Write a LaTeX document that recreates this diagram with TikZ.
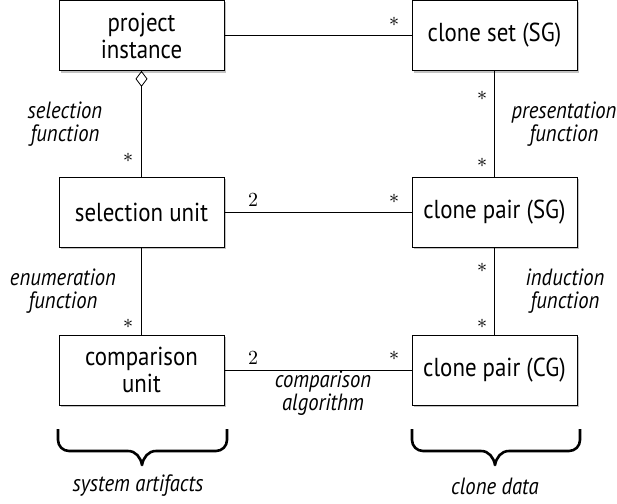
\documentclass[tikz,border=0pt]{standalone}
\usepackage{fontspec}
\setmainfont{PT Sans}[FakeStretch=0.88]
\newfontfamily\lmm{Latin Modern Math}
\usetikzlibrary{shadows,arrows.meta}
\begin{document}
\begin{tikzpicture}[x=1pt,y=-1pt,
 box/.style={draw, line width=0.8pt, fill=white, minimum width=165pt, minimum height=70pt,
   inner sep=0pt, align=center, font=\fontsize{26}{27}\selectfont,
   drop shadow={shadow xshift=2pt, shadow yshift=-2pt, fill=black!40, opacity=0.6}},
 lab/.style={font=\fontsize{23.5}{23}\selectfont\itshape, align=center, inner sep=0pt},
 mult/.style={font=\lmm\fontsize{20}{20}\selectfont, inner sep=0pt},
 conn/.style={line width=0.8pt},
 bracepath/.style={line width=2.6pt, line join=round}]
\useasboundingbox (0,0) rectangle (617,503);

% boxes
\node[box] (pi) at (141.5,35.5) {project\\instance};
\node[box] (cs) at (494.5,35.5) {clone set (SG)};
\node[box] (su) at (141.5,212) {selection unit};
\node[box] (cps) at (494.5,212) {clone pair (SG)};
\node[box] (cu) at (141.5,370) {comparison\\unit};
\node[box] (cpc) at (494.5,370) {clone pair (CG)};

% connectors
\draw[conn] (pi.east) -- (cs.west);
\draw[conn, {Diamond[open, length=16pt, width=12pt, line width=0.8pt]}-] (pi.south) -- (su.north);
\draw[conn] (cs.south) -- (cps.north);
\draw[conn] (su.east) -- (cps.west);
\draw[conn] (su.south) -- (cu.north);
\draw[conn] (cps.south) -- (cpc.north);
\draw[conn] (cu.east) -- (cpc.west);

% multiplicities
\node[mult] (m1) at (394,22) {∗};
\node[mult] (m2) at (128,158) {∗};
\node[mult] (m3) at (482,96) {∗};
\node[mult] (m4) at (482,163) {∗};
\node[mult] (m5) at (253,200) {2};
\node[mult] (m6) at (394,199) {∗};
\node[mult] (m7) at (128,324) {∗};
\node[mult] (m8) at (482,268) {∗};
\node[mult] (m9) at (482,324) {∗};
\node[mult] (m10) at (253,358) {2};
\node[mult] (m11) at (394,356) {∗};

% role labels
\node[lab] (l1) at (65,124.5) {selection\\function};
\node[lab] (l2) at (564,124.5) {presentation\\function};
\node[lab] (l3) at (63,291.5) {enumeration\\function};
\node[lab] (l4) at (565,291.5) {induction\\function};
\node[lab] (l5) at (323,393) {comparison\\algorithm};

% braces
\draw[bracepath] (58,429) -- (58,440) to[out=-90,in=180] (69,451) -- (128,451)
  to[out=0,in=100] (142,465) to[out=80,in=180] (156,451) -- (216,451)
  to[out=0,in=-90] (227,440) -- (227,429);
\draw[bracepath] (412,429) -- (412,440) to[out=-90,in=180] (423,451) -- (481,451)
  to[out=0,in=100] (495,465) to[out=80,in=180] (509,451) -- (569,451)
  to[out=0,in=-90] (580,440) -- (580,429);
\node[lab] (g1) at (138,486) {system artifacts};
\node[lab] (g2) at (495,486) {clone data};
\end{tikzpicture}
\end{document}
